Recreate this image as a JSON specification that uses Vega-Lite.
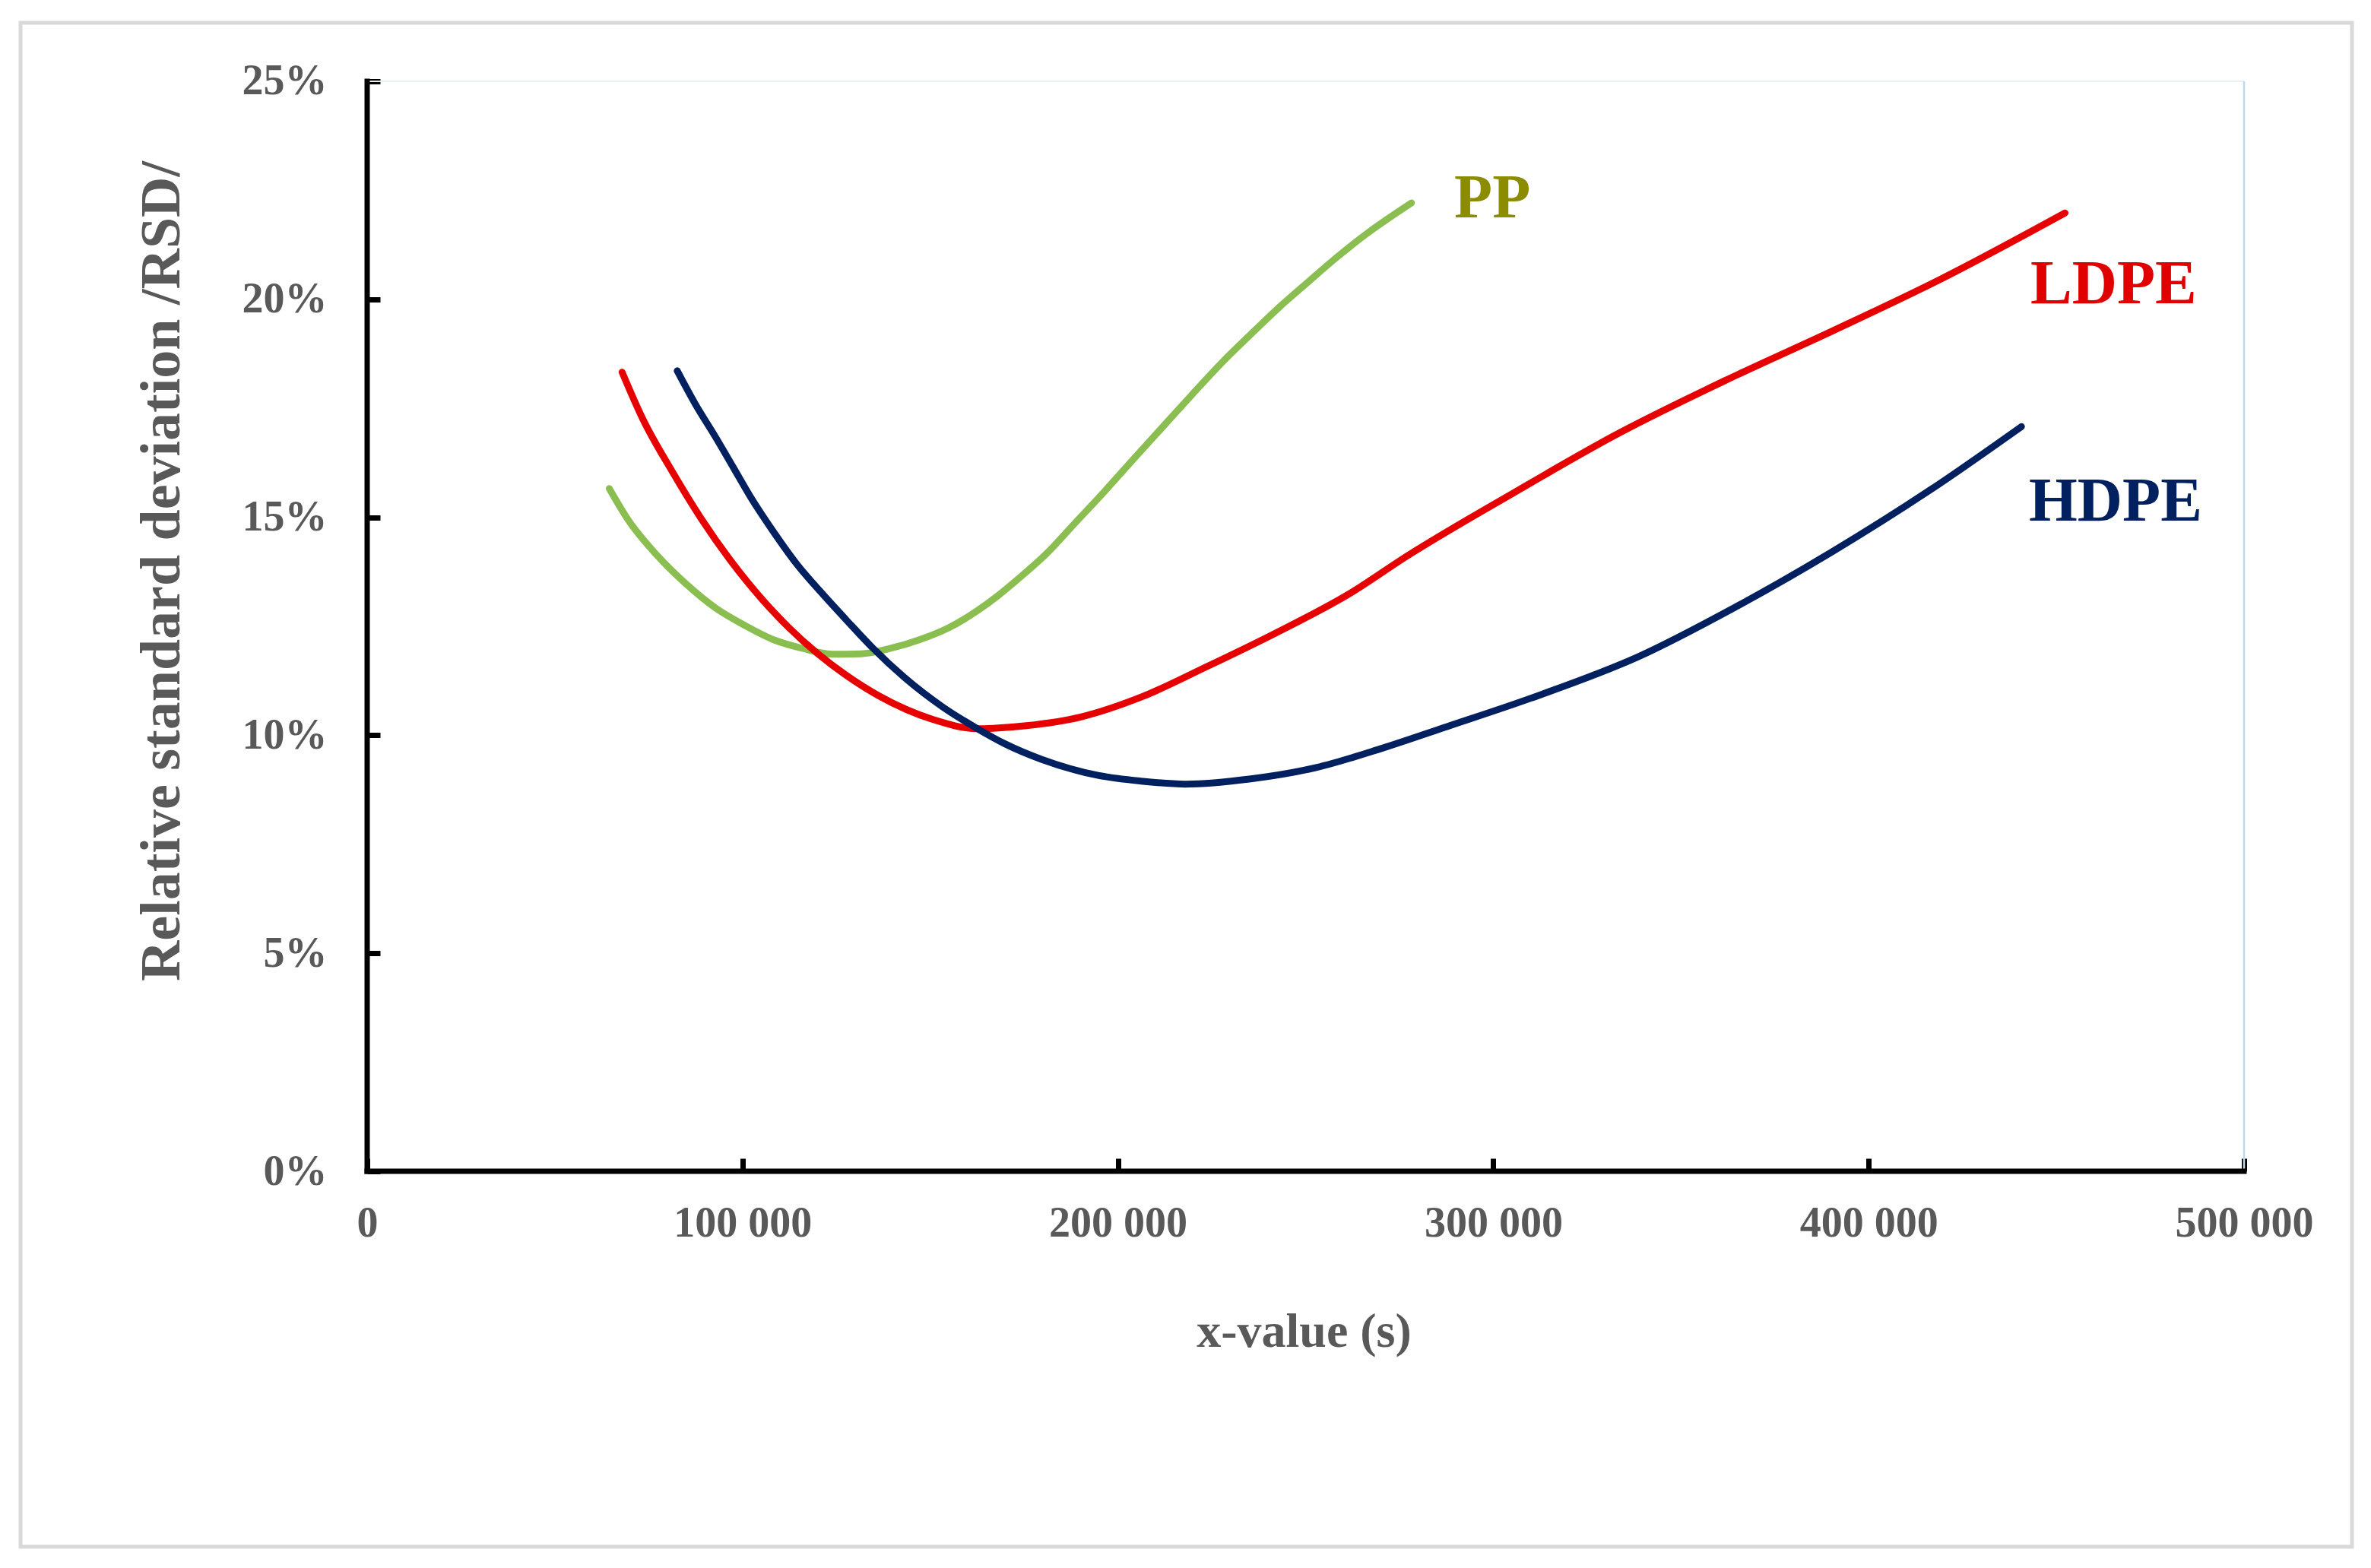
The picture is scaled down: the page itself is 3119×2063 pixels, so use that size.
{
  "$schema": "https://vega.github.io/schema/vega-lite/v6.json",
  "width": 3067,
  "height": 2005,
  "autosize": "none",
  "padding": {"left": 27, "top": 30, "right": 25, "bottom": 28},
  "background": "white",
  "config": {
    "view": {"stroke": "#D9D9D9", "strokeWidth": 5},
    "font": "Liberation Serif"
  },
  "datasets": {
    "curves": [
      {"series": "PP", "x": 64500, "y": 15.66},
      {"series": "PP", "x": 69600, "y": 14.93},
      {"series": "PP", "x": 77300, "y": 14.12},
      {"series": "PP", "x": 85100, "y": 13.46},
      {"series": "PP", "x": 92800, "y": 12.92},
      {"series": "PP", "x": 100600, "y": 12.52},
      {"series": "PP", "x": 108300, "y": 12.19},
      {"series": "PP", "x": 116100, "y": 11.99},
      {"series": "PP", "x": 123800, "y": 11.86},
      {"series": "PP", "x": 131600, "y": 11.87},
      {"series": "PP", "x": 139300, "y": 11.99},
      {"series": "PP", "x": 147100, "y": 12.19},
      {"series": "PP", "x": 154800, "y": 12.46},
      {"series": "PP", "x": 162600, "y": 12.86},
      {"series": "PP", "x": 168000, "y": 13.2},
      {"series": "PP", "x": 173200, "y": 13.57},
      {"series": "PP", "x": 180900, "y": 14.16},
      {"series": "PP", "x": 188700, "y": 14.88},
      {"series": "PP", "x": 196500, "y": 15.6},
      {"series": "PP", "x": 204200, "y": 16.34},
      {"series": "PP", "x": 211900, "y": 17.07},
      {"series": "PP", "x": 219700, "y": 17.81},
      {"series": "PP", "x": 227500, "y": 18.53},
      {"series": "PP", "x": 235200, "y": 19.18},
      {"series": "PP", "x": 243000, "y": 19.82},
      {"series": "PP", "x": 250700, "y": 20.4},
      {"series": "PP", "x": 258400, "y": 20.97},
      {"series": "PP", "x": 266200, "y": 21.5},
      {"series": "PP", "x": 274000, "y": 21.97},
      {"series": "PP", "x": 278200, "y": 22.21},
      {"series": "LDPE", "x": 67900, "y": 18.33},
      {"series": "LDPE", "x": 73400, "y": 17.26},
      {"series": "LDPE", "x": 81200, "y": 16.06},
      {"series": "LDPE", "x": 88900, "y": 14.98},
      {"series": "LDPE", "x": 96700, "y": 14.02},
      {"series": "LDPE", "x": 105200, "y": 13.12},
      {"series": "LDPE", "x": 112200, "y": 12.48},
      {"series": "LDPE", "x": 119900, "y": 11.88},
      {"series": "LDPE", "x": 127700, "y": 11.37},
      {"series": "LDPE", "x": 136400, "y": 10.9},
      {"series": "LDPE", "x": 150800, "y": 10.36},
      {"series": "LDPE", "x": 162600, "y": 10.15},
      {"series": "LDPE", "x": 166800, "y": 10.16},
      {"series": "LDPE", "x": 175600, "y": 10.22},
      {"series": "LDPE", "x": 190100, "y": 10.42},
      {"series": "LDPE", "x": 206300, "y": 10.88},
      {"series": "LDPE", "x": 223800, "y": 11.58},
      {"series": "LDPE", "x": 241200, "y": 12.31},
      {"series": "LDPE", "x": 262100, "y": 13.27},
      {"series": "LDPE", "x": 276800, "y": 14.1},
      {"series": "LDPE", "x": 305200, "y": 15.55},
      {"series": "LDPE", "x": 333700, "y": 16.94},
      {"series": "LDPE", "x": 362100, "y": 18.15},
      {"series": "LDPE", "x": 390500, "y": 19.28},
      {"series": "LDPE", "x": 418900, "y": 20.45},
      {"series": "LDPE", "x": 452300, "y": 21.98},
      {"series": "HDPE", "x": 82600, "y": 18.36},
      {"series": "HDPE", "x": 87400, "y": 17.6},
      {"series": "HDPE", "x": 92800, "y": 16.84},
      {"series": "HDPE", "x": 97500, "y": 16.15},
      {"series": "HDPE", "x": 102100, "y": 15.47},
      {"series": "HDPE", "x": 108300, "y": 14.66},
      {"series": "HDPE", "x": 114500, "y": 13.92},
      {"series": "HDPE", "x": 120700, "y": 13.3},
      {"series": "HDPE", "x": 127700, "y": 12.64},
      {"series": "HDPE", "x": 134700, "y": 12.0},
      {"series": "HDPE", "x": 143200, "y": 11.32},
      {"series": "HDPE", "x": 153300, "y": 10.65},
      {"series": "HDPE", "x": 162600, "y": 10.15},
      {"series": "HDPE", "x": 170000, "y": 9.8},
      {"series": "HDPE", "x": 179600, "y": 9.45},
      {"series": "HDPE", "x": 194700, "y": 9.08},
      {"series": "HDPE", "x": 206000, "y": 8.95},
      {"series": "HDPE", "x": 217900, "y": 8.88},
      {"series": "HDPE", "x": 235400, "y": 9.0},
      {"series": "HDPE", "x": 252800, "y": 9.26},
      {"series": "HDPE", "x": 270300, "y": 9.7},
      {"series": "HDPE", "x": 287700, "y": 10.2},
      {"series": "HDPE", "x": 310000, "y": 10.85},
      {"series": "HDPE", "x": 338600, "y": 11.8},
      {"series": "HDPE", "x": 364500, "y": 12.94},
      {"series": "HDPE", "x": 390300, "y": 14.21},
      {"series": "HDPE", "x": 416100, "y": 15.61},
      {"series": "HDPE", "x": 440700, "y": 17.08}
    ],
    "labels": [
      {"label": "PP", "x": 289600, "y": 22.32},
      {"label": "LDPE", "x": 443100, "y": 20.35},
      {"label": "HDPE", "x": 442700, "y": 15.36}
    ]
  },
  "layer": [
    {
      "data": {"name": "curves"},
      "mark": {"type": "line", "strokeWidth": 9, "strokeCap": "round", "strokeJoin": "round", "interpolate": "monotone"},
      "encoding": {
        "x": {
          "field": "x",
          "type": "quantitative",
          "scale": {"domain": [-92345, 528756], "nice": false, "zero": false},
          "axis": {
            "values": [0, 100000, 200000, 300000, 400000, 500000],
            "offset": -494,
            "domain": false,
            "grid": false,
            "ticks": true,
            "tickSize": -17,
            "tickWidth": 7,
            "tickColor": "#000000",
            "labelExpr": "datum.value == 0 ? '0' : format(datum.value / 1000, 'd') + ' 000'",
            "labelFont": "Liberation Serif",
            "labelFontWeight": "bold",
            "labelFontSize": 56,
            "labelColor": "#595959",
            "labelPadding": 85,
            "labelBaseline": "middle",
            "labelFlush": false,
            "labelOverlap": false,
            "labelLimit": 1000,
            "title": "x-value (s)",
            "titleFont": "Liberation Serif",
            "titleFontWeight": "bold",
            "titleFontSize": 64,
            "titleColor": "#595959",
            "titleX": 1688,
            "titleY": 211,
            "titleAlign": "center",
            "titleBaseline": "middle"
          }
        },
        "y": {
          "field": "y",
          "type": "quantitative",
          "scale": {"domain": [-8.612, 26.342], "nice": false, "zero": false},
          "axis": {
            "values": [0, 5, 10, 15, 20, 25],
            "offset": -456,
            "domain": false,
            "grid": false,
            "ticks": true,
            "tickSize": -17,
            "tickWidth": 7,
            "tickColor": "#000000",
            "labelExpr": "datum.value + '%'",
            "labelFont": "Liberation Serif",
            "labelFontWeight": "bold",
            "labelFontSize": 56,
            "labelColor": "#595959",
            "labelPadding": 70,
            "labelBaseline": "middle",
            "labelAlign": "right",
            "labelFlush": false,
            "labelOverlap": false,
            "labelLimit": 1000,
            "title": "Relative standard deviation /RSD/",
            "titleFont": "Liberation Serif",
            "titleFontWeight": "bold",
            "titleFontSize": 74,
            "titleColor": "#595959",
            "titleAngle": -90,
            "titleX": -270,
            "titleY": 721,
            "titleAlign": "center",
            "titleBaseline": "middle",
            "titleLimit": 3000
          }
        },
        "color": {
          "field": "series",
          "type": "nominal",
          "scale": {"domain": ["PP", "LDPE", "HDPE"], "range": ["#8BBE50", "#E60000", "#002060"]},
          "legend": null
        },
        "order": {"field": "x", "type": "quantitative"}
      }
    },
    {
      "data": {"values": [{}]},
      "mark": {"type": "rule", "color": "#E6EEF7", "strokeWidth": 2},
      "encoding": {"x": {"datum": 0}, "x2": {"datum": 500000}, "y": {"datum": 25}}
    },
    {
      "data": {"values": [{}]},
      "mark": {"type": "rule", "color": "#BDD7EE", "strokeWidth": 2.5},
      "encoding": {"x": {"datum": 500000}, "y": {"datum": 0}, "y2": {"datum": 25}}
    },
    {
      "data": {"values": [{}]},
      "mark": {"type": "rule", "color": "#000000", "strokeWidth": 7, "strokeCap": "square"},
      "encoding": {"x": {"datum": 0}, "y": {"datum": 0}, "y2": {"datum": 25}}
    },
    {
      "data": {"values": [{}]},
      "mark": {"type": "rule", "color": "#000000", "strokeWidth": 7, "strokeCap": "square"},
      "encoding": {"x": {"datum": 0}, "x2": {"datum": 500000}, "y": {"datum": 0}}
    },
    {
      "data": {"name": "labels"},
      "mark": {"type": "text", "align": "left", "baseline": "middle", "font": "Liberation Serif", "fontWeight": "bold", "fontSize": 82},
      "encoding": {
        "x": {"field": "x", "type": "quantitative"},
        "y": {"field": "y", "type": "quantitative"},
        "text": {"field": "label"},
        "color": {
          "field": "label",
          "type": "nominal",
          "scale": {"domain": ["PP", "LDPE", "HDPE"], "range": ["#8C8C00", "#E00000", "#002060"]},
          "legend": null
        }
      }
    }
  ],
  "resolve": {"scale": {"color": "independent"}}
}
